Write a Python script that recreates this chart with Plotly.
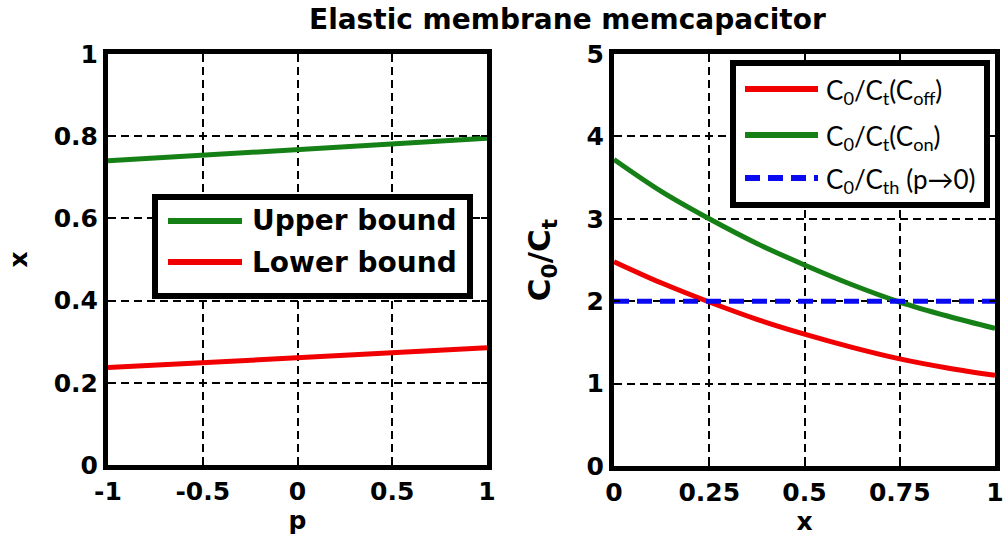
import plotly.graph_objects as go

# Left panel: bounds of x versus p
p_vals = [-1.0, -0.5, 0.0, 0.5, 1.0]
upper_bound = [0.740, 0.754, 0.767, 0.781, 0.795]
lower_bound = [0.237, 0.249, 0.261, 0.273, 0.285]

# Right panel: C0/Ct versus x
x_vals = [0.0, 0.125, 0.25, 0.375, 0.5, 0.625, 0.75, 0.875, 1.0]
c_off = [2.48, 2.22, 1.99, 1.78, 1.60, 1.44, 1.30, 1.19, 1.10]
c_on = [3.72, 3.33, 3.00, 2.70, 2.44, 2.20, 1.99, 1.82, 1.67]
c_th = [2.0, 2.0, 2.0, 2.0, 2.0, 2.0, 2.0, 2.0, 2.0]

left_xticks = [-1, -0.5, 0, 0.5, 1]
left_yticks = [0, 0.2, 0.4, 0.6, 0.8, 1]
right_xticks = [0, 0.25, 0.5, 0.75, 1]
right_yticks = [0, 1, 2, 3, 4, 5]

RED = "#f00000"
GREEN = "#158015"
BLUE = "#0a0af0"
W, H = 1008, 537

BOLD = dict(family="DejaVu Sans", size=25, color="black", weight="bold")

fig = go.Figure()
fig.add_trace(go.Scatter(x=p_vals, y=upper_bound, mode="lines",
                         line=dict(color=GREEN, width=5), xaxis="x", yaxis="y", showlegend=False))
fig.add_trace(go.Scatter(x=p_vals, y=lower_bound, mode="lines",
                         line=dict(color=RED, width=5), xaxis="x", yaxis="y", showlegend=False))
fig.add_trace(go.Scatter(x=x_vals, y=c_off, mode="lines", line_shape="spline",
                         line=dict(color=RED, width=5), xaxis="x2", yaxis="y2", showlegend=False))
fig.add_trace(go.Scatter(x=x_vals, y=c_on, mode="lines", line_shape="spline",
                         line=dict(color=GREEN, width=5), xaxis="x2", yaxis="y2", showlegend=False))
fig.add_trace(go.Scatter(x=x_vals, y=c_th, mode="lines",
                         line=dict(color=BLUE, width=5, dash="15px,8px"), xaxis="x2", yaxis="y2",
                         showlegend=False))

axis_common = dict(
    showline=True, linewidth=5, linecolor="black", mirror="ticks",
    ticks="inside", ticklen=6, tickwidth=2, tickcolor="black",
    showgrid=True, gridcolor="black", gridwidth=2, griddash="8px,5px",
    zeroline=False, tickfont=BOLD, automargin=False,
)

def px_x(v):
    return v / W

def px_y(v):
    return 1 - v / H

fig.update_layout(
    width=W, height=H,
    margin=dict(l=0, r=0, t=0, b=0, autoexpand=False),
    plot_bgcolor="white", paper_bgcolor="white",
    xaxis=dict(domain=[px_x(108), px_x(487)], range=[-1, 1], tickvals=left_xticks,
               ticktext=["-1", "-0.5", "0", "0.5", "1"], anchor="y",
               title=dict(text="p", font=BOLD, standoff=0), **axis_common),
    yaxis=dict(domain=[px_y(465), px_y(54)], range=[0, 1], tickvals=left_yticks,
               ticktext=["0", "0.2", "0.4", "0.6", "0.8", "1"], anchor="x",
               title=dict(text="x", font=BOLD, standoff=20), **axis_common),
    xaxis2=dict(domain=[px_x(614), px_x(995)], range=[0, 1], tickvals=right_xticks,
                ticktext=["0", "0.25", "0.5", "0.75", "1"], anchor="y2",
                title=dict(text="x", font=BOLD, standoff=0), **axis_common),
    yaxis2=dict(domain=[px_y(466), px_y(54)], range=[0, 5], tickvals=right_yticks,
                ticktext=["0", "1", "2", "3", "4", "5"], anchor="x2",
                title=dict(text="C<sub>0</sub>/C<sub>t</sub>",
                           font=dict(family="DejaVu Sans", size=31, color="black", weight="bold"),
                           standoff=28),
                **axis_common),
)

shapes = []
annotations = []

# Title
annotations.append(dict(text="Elastic membrane memcapacitor", x=px_x(567), y=px_y(19),
                        xref="paper", yref="paper", xanchor="center", yanchor="middle",
                        showarrow=False,
                        font=dict(family="DejaVu Sans", size=28, color="black", weight="bold")))

# Legend of the left panel
shapes.append(dict(type="rect", xref="paper", yref="paper",
                   x0=px_x(155), x1=px_x(470), y0=px_y(197), y1=px_y(296),
                   line=dict(color="black", width=6), fillcolor="white", layer="above"))
for yy, col, label in [(221, GREEN, "Upper bound"), (262, RED, "Lower bound")]:
    shapes.append(dict(type="line", xref="paper", yref="paper",
                       x0=px_x(168), x1=px_x(242), y0=px_y(yy), y1=px_y(yy),
                       line=dict(color=col, width=6), layer="above"))
    annotations.append(dict(text=label, x=px_x(250), y=px_y(yy), xref="paper", yref="paper",
                            xanchor="left", yanchor="middle", showarrow=False,
                            font=dict(family="DejaVu Sans", size=28, color="black", weight="bold")))

# Legend of the right panel
shapes.append(dict(type="rect", xref="paper", yref="paper",
                   x0=px_x(733), x1=px_x(987), y0=px_y(63), y1=px_y(205),
                   line=dict(color="black", width=6), fillcolor="white", layer="above"))
right_entries = [
    (89, RED, "solid", "C<sub>0</sub>/C<sub>t</sub>(C<sub>off</sub>)"),
    (135, GREEN, "solid", "C<sub>0</sub>/C<sub>t</sub>(C<sub>on</sub>)"),
    (178, BLUE, "15px,8px", "C<sub>0</sub>/C<sub>th</sub> (p\u21920)"),
]
for yy, col, dash, label in right_entries:
    shapes.append(dict(type="line", xref="paper", yref="paper",
                       x0=px_x(745), x1=px_x(818), y0=px_y(yy), y1=px_y(yy),
                       line=dict(color=col, width=6, dash=dash), layer="above"))
    annotations.append(dict(text=label, x=px_x(824), y=px_y(yy + 2), xref="paper", yref="paper",
                            xanchor="left", yanchor="middle", showarrow=False,
                            font=dict(family="Lato", size=26, color="black")))

fig.update_layout(shapes=shapes, annotations=annotations)
fig.write_html("out.html")
